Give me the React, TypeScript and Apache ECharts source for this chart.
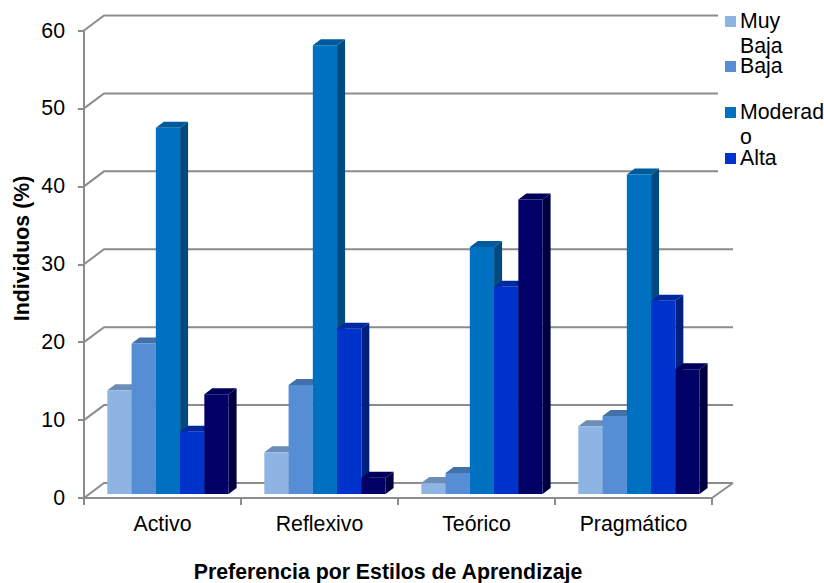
import React, { useEffect, useRef } from "react";
import * as echarts from "echarts";

const categories = ["Activo", "Reflexivo", "Teórico", "Pragmático"];
const muyBaja = [13.3, 5.35, 1.4, 8.7];
const baja = [19.3, 14, 2.7, 10];
const moderado = [47, 57.6, 31.7, 41];
const alta = [8, 21.2, 26.6, 24.8];
const muyAlta = [12.8, 2.1, 37.8, 16];
const yTicks = [0, 10, 20, 30, 40, 50, 60];
const seriesNames = ["Muy Baja", "Baja", "Moderado", "Alta", "Muy Alta"];
const seriesValues = [muyBaja, baja, moderado, alta, muyAlta];
const frontColors = ["#8EB4E3", "#558ED5", "#0070C0", "#0033CC", "#000066"];
const topColors = ["#6C8DB5", "#4270A9", "#005A9C", "#0028A0", "#00005A"];
const sideColors = ["#5F7FA6", "#395F90", "#004A80", "#002080", "#000040"];
const legendLabels = [["Muy", "Baja"], ["Baja"], ["Moderad", "o"], ["Alta"]];
const xTitle = "Preferencia por Estilos de Aprendizaje";
const yTitle = "Individuos (%)";

const FONT = "Liberation Sans, Arial, sans-serif";
const FONT_SIZE = 21.3;
const GRID = "#8C8C8C";
const WALL_DX = 20;
const WALL_DY = 15;
const BAR_DX = 8;
const BAR_DY = 6;
const BAR_LIFT = 4;

function wallItem(params: any, api: any) {
  const cs = params.coordSys;
  const y = api.coord([0, api.value(0)])[1];
  return {
    type: "polyline",
    silent: true,
    shape: {
      points: [
        [cs.x, y],
        [cs.x + WALL_DX, y - WALL_DY],
        [cs.x + cs.width + WALL_DX + 1, y - WALL_DY],
      ],
    },
    style: { stroke: GRID, lineWidth: 2, fill: "none" },
  };
}

function floorRightItem(params: any, api: any) {
  const cs = params.coordSys;
  const y = api.coord([0, 0])[1];
  return {
    type: "line",
    silent: true,
    shape: { x1: cs.x + cs.width, y1: y, x2: cs.x + cs.width + WALL_DX + 1, y2: y - WALL_DY },
    style: { stroke: GRID, lineWidth: 2 },
  };
}

function barItem(seriesIndex: number) {
  return (params: any, api: any) => {
    const cat = api.value(0);
    const val = api.value(1);
    const center = api.coord([cat, 0])[0];
    const band = api.size([1, 0])[0];
    const w = band * 0.1545;
    const x0 = center - band * 0.3515 + seriesIndex * w;
    const x1 = x0 + w;
    const yb = api.coord([cat, 0])[1] - BAR_LIFT;
    const yt = api.coord([cat, val])[1] - BAR_LIFT;
    return {
      type: "group",
      silent: true,
      children: [
        {
          type: "polygon",
          shape: { points: [[x1, yt], [x1 + BAR_DX, yt - BAR_DY], [x1 + BAR_DX, yb - BAR_DY], [x1, yb]] },
          style: { fill: sideColors[seriesIndex] },
        },
        {
          type: "polygon",
          shape: { points: [[x0, yt], [x0 + BAR_DX, yt - BAR_DY], [x1 + BAR_DX, yt - BAR_DY], [x1, yt]] },
          style: { fill: topColors[seriesIndex] },
        },
        {
          type: "rect",
          shape: { x: x0, y: yt, width: w, height: yb - yt },
          style: { fill: frontColors[seriesIndex] },
        },
      ],
    };
  };
}

export default function App() {
  const ref = useRef<HTMLDivElement>(null);
  useEffect(() => {
    const chart = echarts.init(ref.current!, null, { renderer: "svg" });
    const legendY = [16, 61, 107, 153];
    const els: any[] = [
      { type: "rect", z: 100, silent: true, shape: { x: 718, y: 0, width: 106, height: 185 }, style: { fill: "#fff" } },
      {
        type: "text",
        z: 101,
        silent: true,
        x: 388,
        y: 572,
        style: { text: xTitle, font: `bold ${FONT_SIZE}px ${FONT}`, fill: "#000", align: "center", verticalAlign: "middle" },
      },
      {
        type: "text",
        z: 101,
        silent: true,
        x: 21.5,
        y: 248.5,
        rotation: Math.PI / 2,
        style: { text: yTitle, font: `bold ${FONT_SIZE}px ${FONT}`, fill: "#000", align: "center", verticalAlign: "middle" },
      },
    ];
    legendLabels.forEach((lines, i) => {
      els.push({
        type: "rect",
        z: 101,
        silent: true,
        shape: { x: 725, y: legendY[i], width: 11, height: 11 },
        style: { fill: frontColors[i] },
      });
      lines.forEach((line, k) => {
        els.push({
          type: "text",
          z: 101,
          silent: true,
          x: 740,
          y: legendY[i] + 5 + k * 24.5,
          style: { text: line, font: `${FONT_SIZE}px ${FONT}`, fill: "#000", lineHeight: 18, verticalAlign: "middle" },
        });
      });
    });
    chart.setOption({
      animation: false,
      backgroundColor: "#fff",
      grid: { left: 84, right: 112, top: 30.5, bottom: 85 },
      xAxis: {
        type: "category",
        data: categories,
        axisLine: { lineStyle: { color: GRID, width: 2 } },
        axisTick: { show: true, length: 7, alignWithLabel: false, lineStyle: { color: GRID, width: 2 } },
        axisLabel: { fontFamily: FONT, fontSize: FONT_SIZE, color: "#000", margin: 15 },
      },
      yAxis: {
        type: "value",
        min: 0,
        max: 60,
        interval: 10,
        axisLine: { show: true, lineStyle: { color: GRID, width: 2 } },
        axisTick: { show: true, length: 6, lineStyle: { color: GRID, width: 2 } },
        axisLabel: { fontFamily: FONT, fontSize: FONT_SIZE, color: "#000", margin: 19 },
        splitLine: { show: false },
      },
      graphic: { elements: els },
      series: [
        {
          type: "custom",
          name: "walls",
          silent: true,
          z: 1,
          clip: false,
          renderItem: wallItem,
          encode: { y: 0 },
          data: yTicks.map((t) => [t]),
        },
        {
          type: "custom",
          name: "floor",
          silent: true,
          z: 1,
          clip: false,
          renderItem: floorRightItem,
          data: [[0]],
        },
        ...seriesValues.map((vals, i) => ({
          type: "custom",
          name: seriesNames[i],
          z: 3 + i,
          clip: false,
          silent: true,
          renderItem: barItem(i),
          encode: { x: 0, y: 1 },
          data: vals.map((v, c) => [c, v]),
        })),
      ],
    });
    return () => chart.dispose();
  }, []);
  return <div ref={ref} style={{ position: "fixed", left: 0, top: 0, width: 824, height: 583 }} />;
}
